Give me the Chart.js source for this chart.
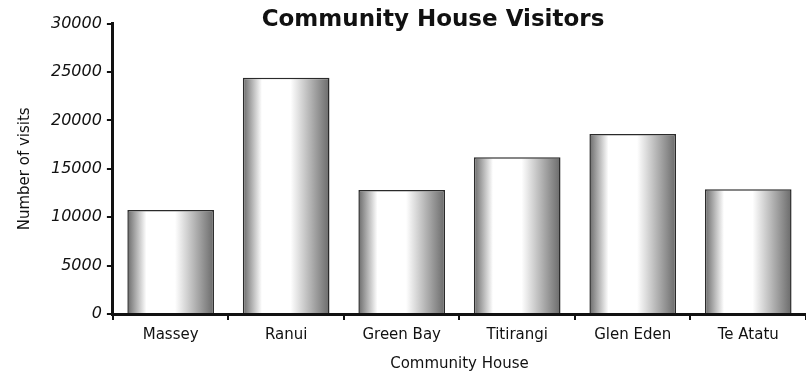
<!DOCTYPE html>
<html>
<head>
<meta charset="utf-8">
<script src="https://cdn.jsdelivr.net/npm/chart.js@4.4.0/dist/chart.umd.min.js"></script>
<style>
  html, body { margin: 0; padding: 0; background: #fff; }
  #wrap { width: 806px; height: 373px; }
</style>
</head>
<body>
<div id="wrap"><canvas id="visitsChart" width="806" height="373"></canvas></div>
<script>
// data
const houses = ['Massey', 'Ranui', 'Green Bay', 'Titirangi', 'Glen Eden', 'Te Atatu'];
const visits = [10750, 24400, 12800, 16200, 18600, 12900];
const yTicks = [0, 5000, 10000, 15000, 20000, 25000, 30000];

const FONT = "'DejaVu Sans', sans-serif";
const BAR_PCT = 0.75;

// horizontal grey-white-grey shading for each bar
function barShade(ctx) {
  const chart = ctx.chart;
  const x = chart.scales.x;
  if (!chart.chartArea || !x || ctx.dataIndex === undefined) return '#ccc';
  const mid = x.getPixelForValue(ctx.dataIndex);
  const half = (x.width / houses.length) * BAR_PCT / 2;
  const g = chart.ctx.createLinearGradient(mid - half, 0, mid + half, 0);
  g.addColorStop(0, '#6a6a6a');
  g.addColorStop(0.22, '#ffffff');
  g.addColorStop(0.55, '#ffffff');
  g.addColorStop(1, '#6a6a6a');
  return g;
}

// nudge the title a bit to the right, like the original
const titleShift = {
  id: 'titleShift',
  afterLayout(chart) {
    if (chart.titleBlock) chart.titleBlock.left += 44;
  }
};

let visitsChart = new Chart(document.getElementById('visitsChart').getContext('2d'), {
  type: 'bar',
  data: {
    labels: houses,
    datasets: [{
      label: 'Number of visits',
      data: visits,
      backgroundColor: barShade,
      borderColor: '#2a2a2a',
      borderWidth: 1.5,
      borderSkipped: 'bottom',
      barPercentage: BAR_PCT,
      categoryPercentage: 1
    }]
  },
  plugins: [titleShift],
  options: {
    responsive: false,
    animation: false,
    layout: { padding: { left: 16, right: 0, top: 0, bottom: 0 } },
    plugins: {
      legend: { display: false },
      tooltip: { enabled: false },
      title: {
        display: true,
        text: 'Community House Visitors',
        color: '#111',
        font: { family: FONT, size: 23, weight: 'bold' },
        padding: { top: 6, bottom: -10 }
      }
    },
    scales: {
      x: {
        offset: true,
        border: { color: '#111', width: 3 },
        grid: { offset: true, drawOnChartArea: false, color: '#111', lineWidth: 2, tickLength: 6 },
        ticks: { color: '#111', padding: 6, font: { family: FONT, size: 15 } },
        title: {
          display: true,
          text: 'Community House',
          color: '#111',
          font: { family: FONT, size: 15 },
          padding: { top: 5, bottom: 0 }
        }
      },
      y: {
        min: 0,
        max: 30000,
        afterBuildTicks: (axis) => { axis.ticks = yTicks.map(v => ({ value: v })); },
        border: { color: '#111', width: 3 },
        grid: { drawOnChartArea: false, color: '#111', lineWidth: 2, tickLength: 6 },
        ticks: {
          color: '#111',
          padding: 5,
          font: { family: FONT, size: 16, style: 'italic' },
          callback: (v) => String(v)
        },
        title: {
          display: true,
          text: 'Number of visits',
          color: '#111',
          font: { family: FONT, size: 15 },
          padding: { top: 0, bottom: 12 }
        }
      }
    }
  }
});

visitsChart.render();
</script>
</body>
</html>
